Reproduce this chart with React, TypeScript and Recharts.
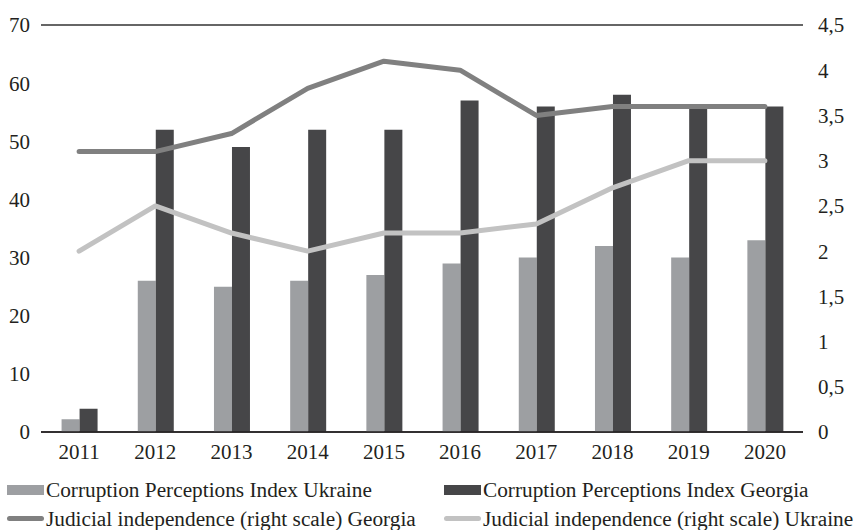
import { Bar, CartesianGrid, ComposedChart, Line, XAxis, YAxis } from 'recharts'

const years = ['2011', '2012', '2013', '2014', '2015', '2016', '2017', '2018', '2019', '2020']
const cpiUkraine = [2.2, 26, 25, 26, 27, 29, 30, 32, 30, 33]
const cpiGeorgia = [4, 52, 49, 52, 52, 57, 56, 58, 56, 56]
const judGeorgia = [3.1, 3.1, 3.3, 3.8, 4.1, 4.0, 3.5, 3.6, 3.6, 3.6]
const judUkraine = [2.0, 2.5, 2.2, 2.0, 2.2, 2.2, 2.3, 2.7, 3.0, 3.0]
const leftTicks = [0, 10, 20, 30, 40, 50, 60, 70]
const rightTicks = [0, 0.5, 1, 1.5, 2, 2.5, 3, 3.5, 4, 4.5]

const data = years.map((year, i) => ({
  year,
  cpiUkraine: cpiUkraine[i],
  cpiGeorgia: cpiGeorgia[i],
  judGeorgia: judGeorgia[i],
  judUkraine: judUkraine[i],
}))

const font = '"Liberation Serif", serif'
const tickStyle = { fontSize: 21, fill: '#231f20', fontFamily: font }

const COLORS = {
  barUkraine: '#9d9fa2',
  barGeorgia: '#464648',
  lineGeorgia: '#808080',
  lineUkraine: '#c2c2c2',
}

const legendItems = [
  { label: 'Corruption Perceptions Index Ukraine', color: COLORS.barUkraine, kind: 'bar' },
  { label: 'Corruption Perceptions Index Georgia', color: COLORS.barGeorgia, kind: 'bar' },
  { label: 'Judicial independence (right scale) Georgia', color: COLORS.lineGeorgia, kind: 'line' },
  { label: 'Judicial independence (right scale) Ukraine', color: COLORS.lineUkraine, kind: 'line' },
]

function LegendSwatch({ color, kind }: { color: string; kind: string }) {
  if (kind === 'bar') {
    return <span style={{ display: 'inline-block', width: 37, height: 10, background: color, marginRight: 2 }} />
  }
  return (
    <span
      style={{ display: 'inline-block', width: 37, height: 5, borderRadius: 3, background: color, marginRight: 2 }}
    />
  )
}

export default function App() {
  return (
    <div style={{ position: 'absolute', left: 0, top: 0, width: 856, height: 530, background: '#fff' }}>
      <ComposedChart
        width={856}
        height={530}
        data={data}
        margin={{ top: 25, right: 0, bottom: 0, left: 0 }}
        barCategoryGap="27%"
        barGap={0}
      >
        <CartesianGrid vertical={false} stroke="#333" strokeWidth={1.3} />
        <XAxis
          dataKey="year"
          height={98}
          tickLine={false}
          tickMargin={6}
          axisLine={{ stroke: '#231f20', strokeWidth: 1.5 }}
          tick={tickStyle}
        />
        <YAxis
          yAxisId="left"
          width={41}
          domain={[0, 70]}
          ticks={leftTicks}
          axisLine={false}
          tickLine={false}
          tickMargin={5}
          tick={tickStyle}
        />
        <YAxis
          yAxisId="right"
          orientation="right"
          width={53}
          domain={[0, 4.5]}
          ticks={rightTicks}
          axisLine={false}
          tickLine={false}
          tickMargin={9}
          tick={{ ...tickStyle, textAnchor: 'start' }}
          tickFormatter={(v: number) => String(v).replace('.', ',')}
        />
        <Bar yAxisId="left" dataKey="cpiUkraine" fill={COLORS.barUkraine} isAnimationActive={false} />
        <Bar yAxisId="left" dataKey="cpiGeorgia" fill={COLORS.barGeorgia} isAnimationActive={false} />
        <Line
          yAxisId="right"
          type="linear"
          dataKey="judGeorgia"
          stroke={COLORS.lineGeorgia}
          strokeWidth={5}
          strokeLinecap="round"
          strokeLinejoin="round"
          dot={false}
          activeDot={false}
          isAnimationActive={false}
        />
        <Line
          yAxisId="right"
          type="linear"
          dataKey="judUkraine"
          stroke={COLORS.lineUkraine}
          strokeWidth={5}
          strokeLinecap="round"
          strokeLinejoin="round"
          dot={false}
          activeDot={false}
          isAnimationActive={false}
        />
      </ComposedChart>
      <div
        style={{
          position: 'absolute',
          left: 7,
          top: 475,
          width: 849,
          display: 'grid',
          gridTemplateColumns: '437px 412px',
          gridAutoRows: '29px',
          fontFamily: font,
          fontSize: 21.3,
          color: '#231f20',
        }}
      >
        {legendItems.map((item) => (
          <div key={item.label} style={{ display: 'flex', alignItems: 'center', whiteSpace: 'nowrap' }}>
            <LegendSwatch color={item.color} kind={item.kind} />
            <span style={{ lineHeight: '20px' }}>{item.label}</span>
          </div>
        ))}
      </div>
    </div>
  )
}
